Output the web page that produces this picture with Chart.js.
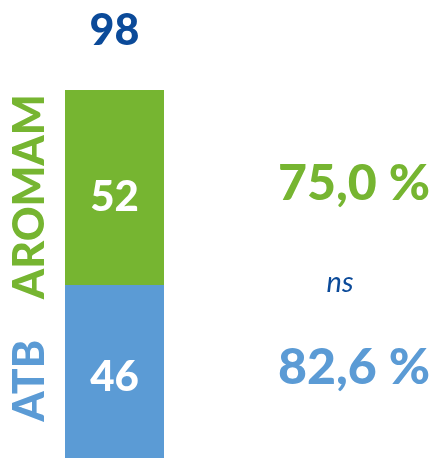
<!DOCTYPE html>
<html>
<head>
<meta charset="utf-8">
<script src="https://cdn.jsdelivr.net/npm/chart.js@4/dist/chart.umd.min.js"></script>
<style>
  html, body { margin: 0; padding: 0; background: #fff; }
  #wrap { width: 434px; height: 458px; position: relative; }
</style>
</head>
<body>
<div id="wrap"><canvas id="chart"></canvas></div>
<script>
// data
const categories = [""];
const seriesNames = ["ATB", "AROMAM"];
const atbValues = [46];
const aromamValues = [52];
const rateLabels = ["82,6 %", "75,0 %"];
const sigLabel = "ns";

const GREEN = "#76b531";
const BLUE = "#5b9bd5";
const NAVY = "#0b4a99";
const FONT = "Lato, 'Open Sans', sans-serif";

const total = atbValues[0] + aromamValues[0];

const labelPlugin = {
  id: "labels",
  afterDatasetsDraw: (chart) => {
    const ctx = chart.ctx;
    const colors = [BLUE, GREEN];
    const valueShift = [6, 10];
    let topY = null;
    let boundaryY = null;
    ctx.save();
    ctx.textAlign = "center";
    ctx.textBaseline = "middle";
    chart.data.datasets.forEach((ds, i) => {
      const bar = chart.getDatasetMeta(i).data[0];
      const top = bar.y;
      const bottom = bar.base;
      const mid = (top + bottom) / 2;
      if (i === 0) boundaryY = top;
      topY = top;

      // value inside bar
      ctx.fillStyle = "#ffffff";
      ctx.font = "900 42px " + FONT;
      ctx.fillText(ds.data[0], bar.x, mid + valueShift[i]);

      // rotated series label
      ctx.save();
      ctx.translate(30, mid + 9);
      ctx.rotate(-Math.PI / 2);
      ctx.fillStyle = colors[i];
      ctx.font = "900 43px " + FONT;
      ctx.fillText(ds.label, 0, 0);
      ctx.restore();

      // rate on the right
      ctx.fillStyle = colors[i];
      ctx.font = "900 50px " + FONT;
      ctx.fillText(rateLabels[i], 354, mid - 4);
    });

    // total above bar
    const x0 = chart.getDatasetMeta(0).data[0].x;
    ctx.fillStyle = NAVY;
    ctx.font = "900 43px " + FONT;
    ctx.fillText(total, x0, topY - 59);

    // significance
    ctx.font = "italic 29px " + FONT;
    ctx.fillText(sigLabel, 340, boundaryY - 3);
    ctx.restore();
  },
};

new Chart(document.getElementById("chart").getContext("2d"), {
  type: "bar",
  data: {
    labels: categories,
    datasets: [
      { label: seriesNames[0], data: atbValues, backgroundColor: BLUE },
      { label: seriesNames[1], data: aromamValues, backgroundColor: GREEN },
    ],
  },
  options: {
    responsive: true,
    maintainAspectRatio: false,
    animation: false,
    layout: { padding: { left: 65, right: 270, top: 90, bottom: 0 } },
    datasets: { bar: { barPercentage: 1, categoryPercentage: 1 } },
    plugins: {
      legend: { display: false },
      tooltip: { enabled: false },
    },
    scales: {
      x: { display: false, stacked: true },
      y: { display: false, stacked: true, min: 0, max: total },
    },
  },
  plugins: [labelPlugin],
});
</script>
</body>
</html>
